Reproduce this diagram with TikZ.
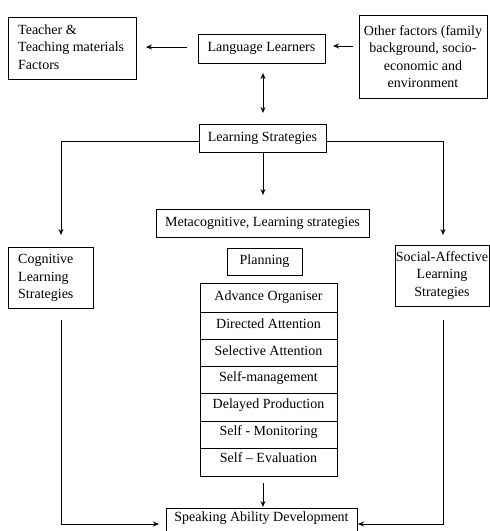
\documentclass[tikz,border=0pt]{standalone}
\usepackage{fontspec}
\setmainfont{Liberation Serif}
\usetikzlibrary{arrows.meta}
\begin{document}
\begin{tikzpicture}[x=1pt,y=-1pt,
  font=\fontsize{14}{17.5}\selectfont,
  box/.style={draw,line width=1pt,inner sep=0pt,anchor=center},
  arr/.style={line width=1pt,-{Stealth[length=6pt,width=5pt]}},
  darr/.style={line width=1pt,{Stealth[length=6pt,width=5pt]}-{Stealth[length=6pt,width=5pt]}},
  ln/.style={line width=1pt}]
\useasboundingbox (0,0) rectangle (490,531);
\clip (0,0) rectangle (490,531);
\fill[white] (0,0) rectangle (490,531);

\node[box,minimum width=128pt,minimum height=62pt] (teacher) at (72,48) {};
\node[anchor=west,align=left,inner sep=0pt] (teachertxt) at (18,47) {Teacher \&\\Teaching materials\\Factors};
\node[box,minimum width=127pt,minimum height=29pt] (ll) at (261.5,48.5) {Language Learners};
\node[box,minimum width=128pt,minimum height=83pt,align=center] (other) at (423,56.5) {Other factors (family\\background, socio-\\economic and\\environment};
\node[box,minimum width=127pt,minimum height=28pt] (ls) at (262.5,138) {Learning Strategies};
\node[box,minimum width=213pt,minimum height=28pt] (meta) at (262.5,223) {Metacognitive, Learning strategies};
\node[box,minimum width=75pt,minimum height=27pt] (plan) at (264.5,261.5) {Planning};
\node[box,minimum width=85pt,minimum height=61pt] (cog) at (50.5,277.5) {};
\node[anchor=west,align=left,inner sep=0pt] (cogtxt) at (18,278) {Cognitive\\Learning\\Strategies};
\node[box,minimum width=94pt,minimum height=61pt,align=center] (soc) at (442,275.5) {Social-Affective\\Learning\\Strategies};

% stacked list
\node[box,minimum width=137pt,minimum height=193pt] (stack) at (268.5,379.5) {};
\foreach \y in {312,339,366,393,421,448}{
  \draw[ln] (200,\y) -- (337,\y);
}
\node (s1) at (268.5,297) {Advance Organiser};
\node (s2) at (268.5,324) {Directed Attention};
\node (s3) at (268.5,351) {Selective Attention};
\node (s4) at (268.5,378) {Self-management};
\node (s5) at (268.5,405) {Delayed Production};
\node (s6) at (268.5,432) {Self - Monitoring};
\node (s7) at (268.5,458) {Self -- Evaluation};

\node[box,minimum width=191pt,minimum height=34pt] (speak) at (261.5,525) {};
\node (speaktxt) at (261.5,518.5) {Speaking Ability Development};

% connectors
\coordinate (llw) at (187,47);
\coordinate (tt) at (146,47);
\draw[arr] (llw) -- (tt);
\coordinate (ow) at (353,46);
\coordinate (le) at (333,46);
\draw[arr] (ow) -- (le);
\coordinate (a1) at (263,73);
\coordinate (a2) at (263,113);
\draw[darr] (a1) -- (a2);
\coordinate (b1) at (263,152);
\coordinate (b2) at (263,195);
\draw[arr] (b1) -- (b2);
\coordinate (cl) at (61,235);
\coordinate (cr) at (443,235);
\coordinate (lsw) at (199,141);
\coordinate (lse) at (326,141);
\draw[arr] (lsw) -| (cl);
\draw[arr] (lse) -| (cr);
\coordinate (d1) at (263,483);
\coordinate (d2) at (263,507);
\draw[arr] (d1) -- (d2);
\coordinate (cb) at (61,320);
\coordinate (sl) at (159,524);
\draw[arr] (cb) |- (sl);
\coordinate (sb) at (443,320);
\coordinate (sr) at (358,524);
\draw[arr] (sb) |- (sr);
\end{tikzpicture}
\end{document}
